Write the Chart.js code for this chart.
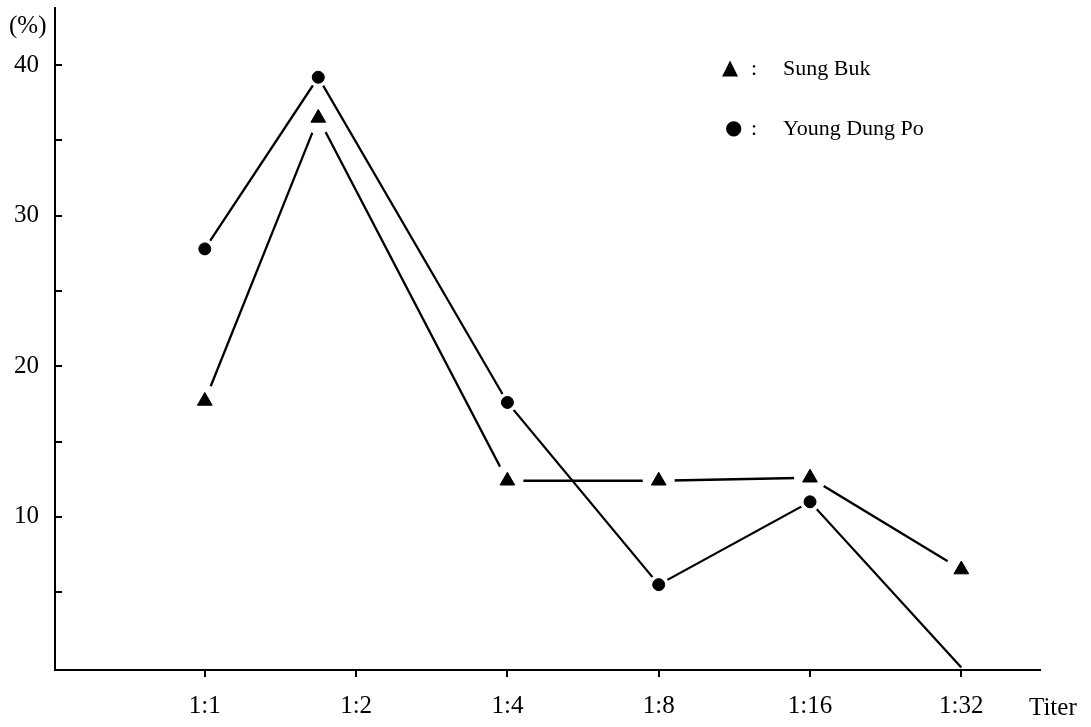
<!DOCTYPE html>
<html>
<head>
<meta charset="utf-8">
<script src="https://cdn.jsdelivr.net/npm/chart.js@4.4.1/dist/chart.umd.min.js"></script>
<style>
  html, body { margin: 0; padding: 0; background: #fff; }
  #wrap { position: relative; width: 1091px; height: 727px; overflow: hidden; }
  canvas { position: absolute; left: 0; top: 0; }
  .t { position: absolute; font-family: 'Liberation Serif', 'DejaVu Serif', serif; color: #000; white-space: nowrap; line-height: 30px; height: 30px; }
  .m { position: absolute; font-family: 'DejaVu Sans', sans-serif; color: #000; line-height: 30px; height: 30px; }
</style>
</head>
<body>
<div id="wrap">
  <canvas id="c" width="1091" height="727"></canvas>
  <div class="t" style="left:9px; top:10px; font-size:25px;">(%)</div>
  <div class="t" style="left:1029px; top:692px; font-size:25px;">Titer</div>
  <div class="m" style="left:722px; top:52px; font-size:21px;">▲</div>
  <div class="t" style="left:751px; top:53px; font-size:22px;">:</div>
  <div class="t" style="left:783px; top:53px; font-size:22px;">Sung Buk</div>
  <div class="m" style="left:725px; top:112px; font-size:20px;">●</div>
  <div class="t" style="left:751px; top:113px; font-size:22px;">:</div>
  <div class="t" style="left:783px; top:113px; font-size:22px;">Young Dung Po</div>
</div>
<script>
const categories = ['1:1', '1:2', '1:4', '1:8', '1:16', '1:32'];
const xPositions = [0, 0.75, 2, 3, 4, 5];
const sungBuk = [17.7, 36.5, 12.4, 12.4, 12.6, 6.5];
const youngDungPo = [27.8, 39.2, 17.6, 5.5, 11.0, 0];
const yTickValues = [5, 10, 15, 20, 25, 30, 35, 40];
const yLabelValues = [10, 20, 30, 40];

const pts = (vals) => vals.map((v, i) => ({ x: xPositions[i], y: v }));
const hideZero = (r) => (ctx) => (ctx.raw && ctx.raw.y === 0 ? 0 : r);
const FAMILY = "'Liberation Serif', 'DejaVu Serif', serif";
const zeroPad = (s) => { s.paddingTop = 0; s.paddingBottom = 0; s.paddingLeft = 0; s.paddingRight = 0; };

new Chart(document.getElementById('c'), {
  type: 'scatter',
  data: {
    datasets: [
      { label: 'Sung Buk line', data: pts(sungBuk), showLine: true, borderColor: '#000', borderWidth: 2.3, pointRadius: 0, order: 5 },
      { label: 'Young Dung Po line', data: pts(youngDungPo), showLine: true, borderColor: '#000', borderWidth: 2.3, pointRadius: 0, order: 5 },
      { label: 'Sung Buk gap', data: pts(sungBuk), showLine: false, pointStyle: 'circle', pointRadius: 16, pointBackgroundColor: '#fff', pointBorderWidth: 0, order: 3 },
      { label: 'Young Dung Po gap', data: pts(youngDungPo), showLine: false, pointStyle: 'circle', pointRadius: hideZero(10), pointBackgroundColor: '#fff', pointBorderWidth: 0, order: 3 },
      { label: 'Sung Buk', data: pts(sungBuk), showLine: false, pointStyle: 'triangle', pointRadius: 8.5, pointBackgroundColor: '#000', pointBorderColor: '#000', pointBorderWidth: 1, order: 1 },
      { label: 'Young Dung Po', data: pts(youngDungPo), showLine: false, pointStyle: 'circle', pointRadius: hideZero(6), pointBackgroundColor: '#000', pointBorderColor: '#000', pointBorderWidth: 1, order: 1 }
    ]
  },
  options: {
    responsive: false,
    animation: false,
    layout: { autoPadding: false, padding: { top: 8, right: 51, bottom: 0, left: 0 } },
    plugins: { legend: { display: false }, tooltip: { enabled: false } },
    scales: {
      x: {
        type: 'linear',
        min: -0.99,
        max: 5.52,
        afterBuildTicks: (s) => { s.ticks = categories.map((c, i) => ({ value: i })); },
        afterFit: (s) => { s.height = 57; zeroPad(s); },
        ticks: {
          callback: (v) => categories[Math.round(v)] || '',
          font: { family: FAMILY, size: 25 }, color: '#000', padding: 14, maxRotation: 0, autoSkip: false
        },
        grid: { display: true, drawOnChartArea: false, drawTicks: true, tickLength: 7, color: '#000', lineWidth: 2 },
        border: { display: true, color: '#000', width: 2 }
      },
      y: {
        type: 'linear',
        min: -0.17,
        max: 43.8,
        afterBuildTicks: (s) => { s.ticks = yTickValues.map(v => ({ value: v })); },
        afterFit: (s) => { s.width = 55; zeroPad(s); },
        ticks: {
          callback: (v) => (yLabelValues.includes(v) ? String(v) : ''),
          font: { family: FAMILY, size: 25, lineHeight: 0.4 }, color: '#000', padding: 23, autoSkip: false
        },
        grid: { display: true, drawOnChartArea: false, drawTicks: true, tickLength: -7, color: '#000', lineWidth: 2 },
        border: { display: true, color: '#000', width: 2 }
      }
    }
  }
});
</script>
</body>
</html>
